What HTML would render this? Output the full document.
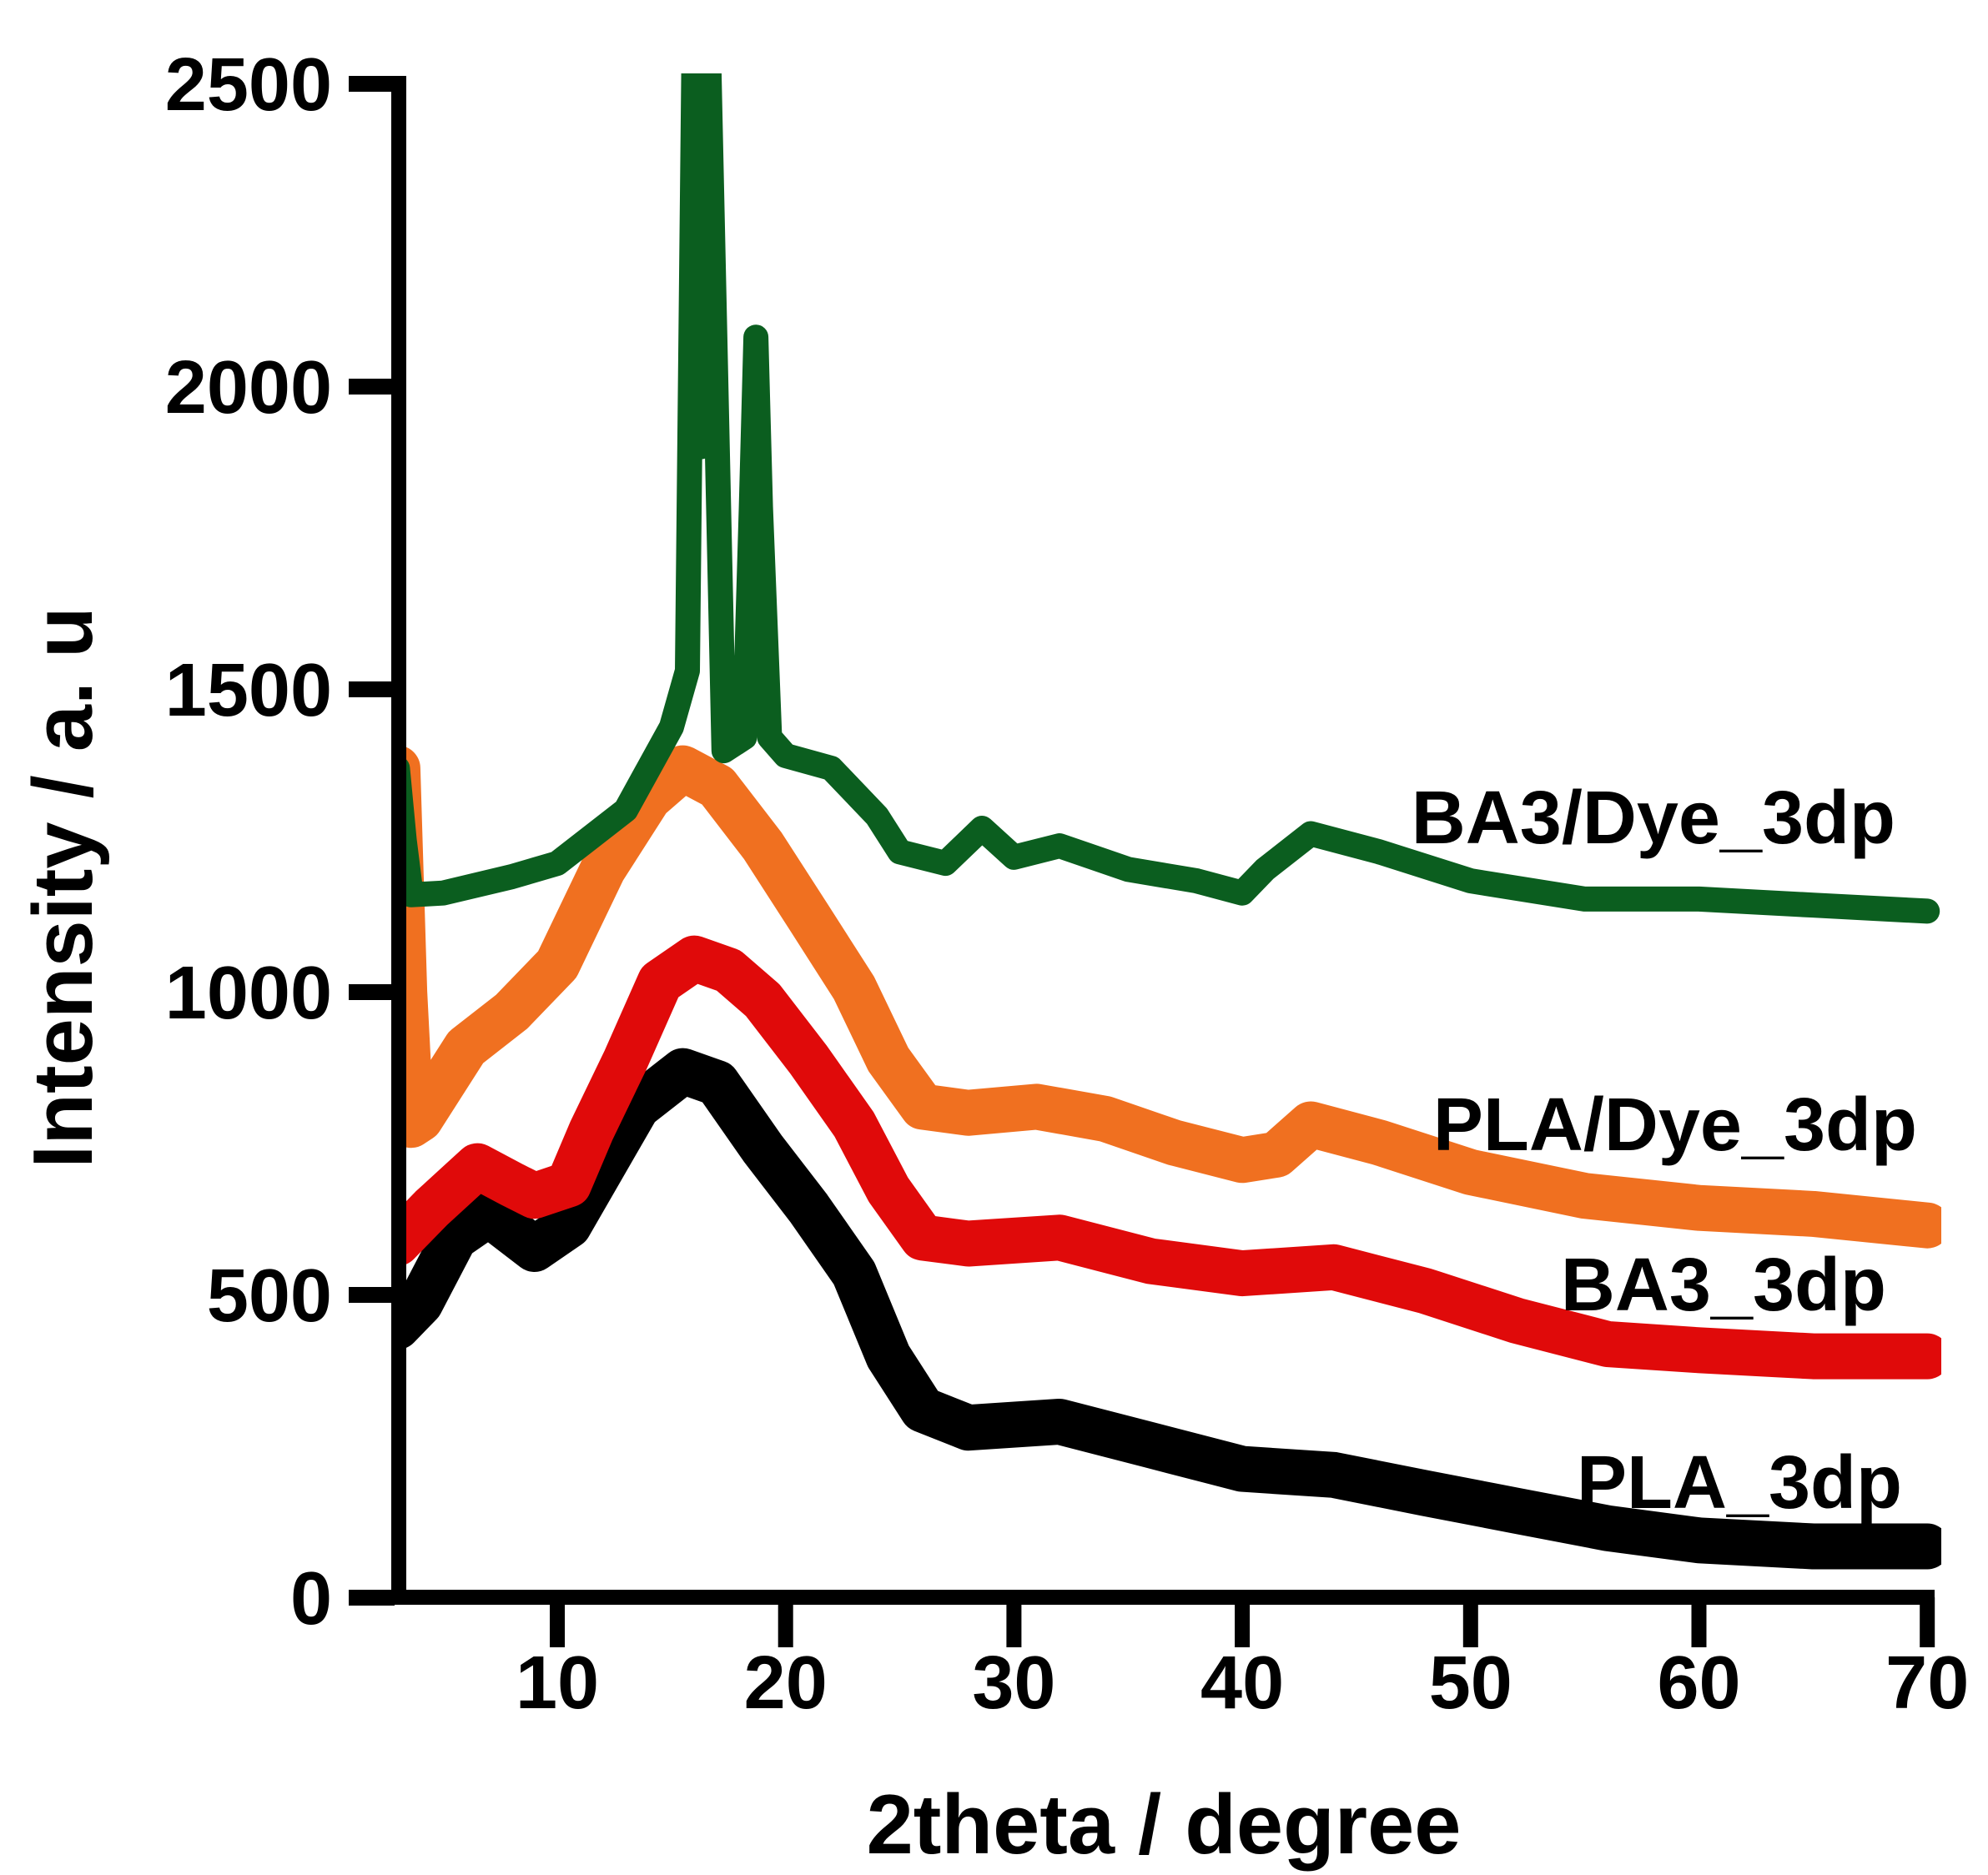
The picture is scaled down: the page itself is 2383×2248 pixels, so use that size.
<!DOCTYPE html>
<html><head><meta charset="utf-8"><style>
html,body{margin:0;padding:0;background:#fff}
svg{display:block}
text{font-family:"Liberation Sans",Arial,sans-serif;font-weight:bold}
</style></head><body>
<svg id="chart" width="2383" height="2248" viewBox="0 0 2383 2248" xmlns="http://www.w3.org/2000/svg">
<defs><clipPath id="pc"><rect x="487" y="88" width="1840" height="1818"/></clipPath></defs>
<g id="series" clip-path="url(#pc)"></g>
<g id="axes"></g>
<text x="1395" y="2222" text-anchor="middle" font-size="101">2theta / degree</text>
<text transform="translate(110,1064) rotate(-90)" text-anchor="middle" font-size="101">Intensity / a. u</text>
</svg>
<script>
const xTicks=[10,20,30,40,50,60,70];
const yTicks=[0,500,1000,1500,2000,2500];
const greenX=[3,3.3,3.6,5,8,10,13,15,15.7,16.0,16.1,16.3,16.4,16.6,17.3,18.2,18.5,18.7,18.9,19.3,20,22,24,25,27,28.6,30,32,35,38,40,41,43,46,50,55,60,65,70];
const greenY=[1369,1250,1160,1163,1190,1212,1300,1437,1530,2600,2600,1900,2600,2600,1398,1420,1800,2081,1800,1420,1390,1369,1290,1231,1212,1270,1222,1241,1202,1183,1163,1202,1261,1231,1183,1153,1153,1143,1133];
const orangeX=[3,3.3,3.6,4,6,8,10,12,14,15.5,17,19,21,23,24.5,26,28,31,34,37,40,41.5,43,46,50,55,60,65,70];
const orangeY=[1369,1000,780,790,908,967,1045,1202,1320,1369,1339,1241,1124,1006,888,810,800,810,790,751,722,731,781,751,702,663,643,633,614];
const redX=[3,4.5,6.5,8,9,10.5,11.5,13,14.5,16,17.5,19,21,23,24.5,26,28,32,36,40,44,48,52,56,60,65,70];
const redY=[585,643,712,682,663,682,771,888,1016,1055,1035,986,888,781,673,594,584,594,555,535,545,506,457,418,408,398,398];
const blackX=[3,4,5.5,7,9,10.5,12,13.5,15.5,17,19,21,23,24.5,26,28,32,36,40,44,48,52,56,60,65,70];
const blackY=[447,486,594,633,575,614,712,810,869,849,741,643,535,398,310,280,290,251,212,202,172,143,114,94,84,84];
const labels=["PLA_3dp","BA3_3dp","PLA/Dye_3dp","BA3/Dye_3dp"];
const NS="http://www.w3.org/2000/svg";
function X(v){return 668+(v-10)*27.37;}
function Y(v){return 1915-v*0.726;}
const sg=document.getElementById('series');
const ag=document.getElementById('axes');
function mk(tag,attrs,parent){const e=document.createElementNS(NS,tag);for(const k in attrs)e.setAttribute(k,attrs[k]);parent.appendChild(e);return e;}
function line(xs,ys,color,w,name){
  let d=xs.map((x,i)=>(i?'L':'M')+X(x).toFixed(1)+' '+Y(ys[i]).toFixed(1)).join(' ');
  const p=mk('path',{d:d,fill:'none',stroke:color,'stroke-width':w,'stroke-linejoin':'round','stroke-linecap':'round'},sg);
  
  
}
line(blackX,blackY,'#000','55','series-pla-3dp');
line(redX,redY,'#e00a0a','55','series-ba3-3dp');
line(orangeX,orangeY,'#f07020','55','series-pla-dye-3dp');
line(greenX,greenY,'#0b5e1f','30','series-ba3-dye-3dp');
const ya=mk('rect',{x:469,y:91,width:18,height:1833,fill:'#000'},ag);


const xa=mk('rect',{x:418,y:1906,width:1901,height:18,fill:'#000'},ag);


yTicks.forEach(t=>{
  const r=mk('rect',{x:418,y:Y(t)-9,width:55,height:19,fill:'#000'},ag);
  
  
  const tx=mk('text',{x:398,y:Y(t)+32,'text-anchor':'end','font-size':90},ag);
  tx.textContent=t;
  
  
});
xTicks.forEach(t=>{
  const r=mk('rect',{x:X(t)-9,y:1915,width:18,height:60,fill:'#000'},ag);
  
  
  const tx=mk('text',{x:X(t),y:2048,'text-anchor':'middle','font-size':90},ag);
  tx.textContent=t;
  
  
});
const lx=[2280,2261,2298,2272];
const ly=[1808,1571,1379,1011];
labels.forEach((s,i)=>{
  const tx=mk('text',{x:lx[i],y:ly[i],'text-anchor':'end','font-size':90},ag);
  tx.textContent=s;
  
  
});
</script>
</body></html>
